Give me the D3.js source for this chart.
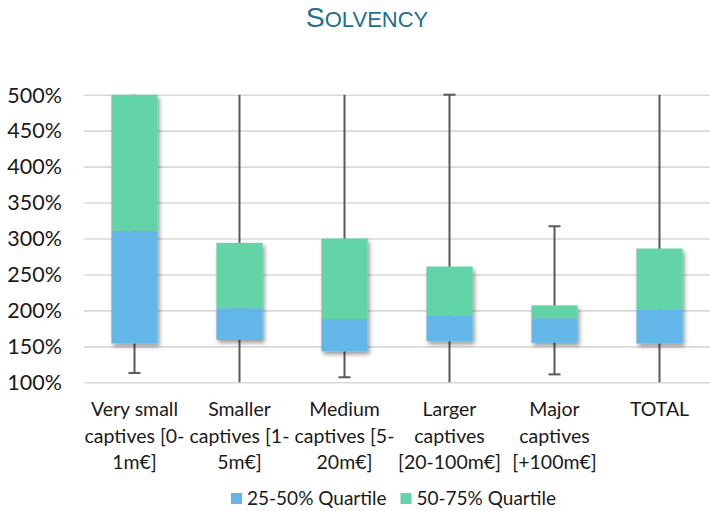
<!DOCTYPE html>
<html><head><meta charset="utf-8">
<script src="https://cdn.jsdelivr.net/npm/d3@7"></script>
<style>
html,body{margin:0;padding:0;background:#fff;}
svg{display:block;}
</style></head>
<body>
<svg id="chart" width="710" height="511"></svg>
<script>
// ---- data ----
const categories = ["Very small captives [0-1m€]", "Smaller captives [1-5m€]", "Medium captives [5-20m€]", "Larger captives [20-100m€]", "Major captives [+100m€]", "TOTAL"];
const q1Values     = [154, 159, 143, 157, 155, 154];
const medianValues = [311, 203, 188, 193, 189, 201];
const q3Values     = [500, 294, 300, 261, 207, 286];
const minValues    = [113, 95, 107, 95, 111, 95];    // values below 100% run off the axis
const maxValues    = [520, 520, 520, 500, 317, 520]; // values above 500% run off the axis
const seriesNames  = ["25-50% Quartile", "50-75% Quartile"];
const yTicks       = [100, 150, 200, 250, 300, 350, 400, 450, 500];
const titleText    = "Solvency";

const colors = ["#63b7e8", "#62d4a8"];
const svg = d3.select("#chart");
const margin = {left: 82};
const W = 712;

const x = d3.scaleBand().domain(categories).range([margin.left, W]).paddingInner(0.56).paddingOuter(0.28);
const y = d3.scaleLinear().domain([100, 500]).range([382.3, 94.7]);
const yc = v => y(Math.max(100, Math.min(500, v)));

// defs: shadow
const defs = svg.append("defs");
const f = defs.append("filter").attr("id", "shadow").attr("x", "-30%").attr("y", "-30%").attr("width", "160%").attr("height", "160%");
f.append("feDropShadow").attr("dx", 2).attr("dy", 3).attr("stdDeviation", 2.2).attr("flood-color", "#000").attr("flood-opacity", 0.4);

// title
const title = svg.append("text").attr("x", 367).attr("y", 27).attr("text-anchor", "middle")
  .attr("font-family", "'Liberation Sans', Arial, sans-serif").attr("fill", "#1b7192");
title.append("tspan").attr("font-size", 28.5).text(titleText[0].toUpperCase());
title.append("tspan").attr("font-size", 22).text(titleText.slice(1).toUpperCase());

// gridlines + y labels
const yAxis = d3.axisLeft(y).tickValues(yTicks).tickSize(-(710 - 84)).tickFormat(d => d + "%");
const gy = svg.append("g").attr("transform", "translate(84,0)").call(yAxis);
gy.select(".domain").remove();
gy.selectAll(".tick line").attr("stroke", "#d9d9d9").attr("stroke-width", 1.6);
gy.selectAll(".tick text").attr("x", -22).attr("dy", "0.34em").attr("fill", "#1a1a1a")
  .attr("font-family", "Lato, sans-serif").attr("font-size", 21.5);

// whiskers (behind bars)
const cx = d => x(d) + x.bandwidth() / 2;
const wg = svg.append("g").attr("stroke", "#595959").attr("stroke-width", 2);
categories.forEach((c, i) => {
  wg.append("line").attr("x1", cx(c)).attr("x2", cx(c)).attr("y1", yc(minValues[i])).attr("y2", yc(maxValues[i]));
  [minValues[i], maxValues[i]].forEach(v => {
    if (v >= 100 && v <= 500) {
      wg.append("line").attr("x1", cx(c) - 6).attr("x2", cx(c) + 6).attr("y1", y(v)).attr("y2", y(v));
    }
  });
});

// stacked boxes (one shadow for the whole stack)
const rows = categories.map((c, i) => ({cat: c, base: q1Values[i], a: medianValues[i] - q1Values[i], b: q3Values[i] - medianValues[i]}));
const stack = d3.stack().keys(["base", "a", "b"])(rows);
const barG = svg.append("g").attr("filter", "url(#shadow)");
stack.slice(1).forEach((layer, k) => {
  barG.append("g").selectAll("rect").data(layer).join("rect")
    .attr("x", d => x(d.data.cat)).attr("width", x.bandwidth())
    .attr("y", d => yc(d[1])).attr("height", d => yc(d[0]) - yc(d[1]))
    .attr("fill", colors[k]);
});

// x category labels with wrapping
const labelFont = "Lato, sans-serif", labelSize = 19.5;
const xl = svg.append("g").attr("font-family", labelFont).attr("font-size", labelSize).attr("fill", "#1a1a1a").attr("text-anchor", "middle");
function wrap(str, maxW) {
  const tokens = str.match(/[^\s-]+-?|\s+/g);
  const meas = xl.append("text").attr("visibility", "hidden");
  const width = s => { meas.text(s); return meas.node().getComputedTextLength(); };
  const lines = []; let cur = "";
  tokens.forEach(t => {
    const test = cur + t;
    if (cur.trim() && width(test.trim()) > maxW) { lines.push(cur.trim()); cur = t.trim() ? t : ""; }
    else cur = test;
  });
  if (cur.trim()) lines.push(cur.trim());
  meas.remove();
  return lines;
}
categories.forEach(c => {
  const lines = wrap(c, 104);
  const t = xl.append("text").attr("x", cx(c)).attr("y", 416);
  lines.forEach((ln, j) => t.append("tspan").attr("x", cx(c)).attr("dy", j ? 26.5 : 0).text(ln));
});

// legend
const lg = svg.append("g").attr("font-family", labelFont).attr("font-size", 19).attr("fill", "#1a1a1a");
let lx = 231;
seriesNames.forEach((s, k) => {
  lg.append("rect").attr("x", lx).attr("y", 493).attr("width", 11).attr("height", 11).attr("fill", colors[k]);
  const t = lg.append("text").attr("x", lx + 16).attr("y", 505).text(s);
  lx += 16 + t.node().getComputedTextLength() + 14;
});
</script>
</body></html>
